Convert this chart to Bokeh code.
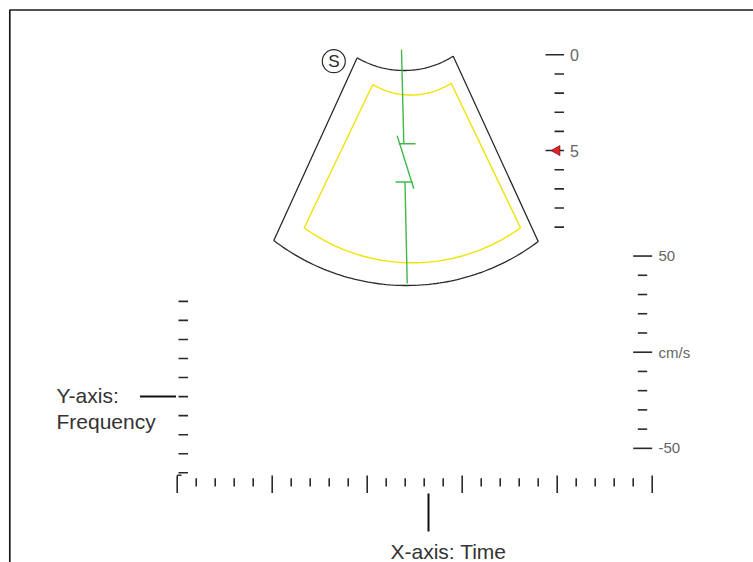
import numpy as np
from bokeh.plotting import figure
from bokeh.models import Range1d
from bokeh.embed import file_html
from bokeh.resources import INLINE
from bokeh.core.properties import value

# ---------------- data ----------------
depth_ticks = [0, 1, 2, 3, 4, 5, 6, 7, 8, 9]
depth_major = [0, 5]
depth_labels = ["0", "5"]
gate_depth = 5

velocity_ticks = [50, 40, 30, 20, 10, 0, -10, -20, -30, -40, -50]
velocity_major = [50, 0, -50]
velocity_labels = ["50", "cm/s", "-50"]

time_ticks = list(range(26))
time_major = [0, 5, 10, 15, 20, 25]

freq_ticks = list(range(10))
freq_pointer = 4

x_title = "X-axis: Time"
y_title = ["Y-axis:", "Frequency"]
probe_mark = "S"

# ---------------- layout / style ----------------
W, H = 753, 562
OX, OY = 0, 0            # Bokeh page has no body margin -> data units equal screen pixels
FONT = value("Liberation Sans")
DARK = "#2a2a2a"
GREEN = "#3fb94a"
YELLOW = "#f2e200"

# scale placements (pixels)
DEPTH_Y0, DEPTH_STEP = 54.3, 19.15
VEL_Y0, VEL_STEP = 351.7, 1.923        # px per cm/s
FREQ_Y0, FREQ_STEP = 472.3, 19.05
TIME_X0, TIME_STEP = 176.7, 19.0

p = figure(width=W, height=H,
           x_range=Range1d(OX, OX + W), y_range=Range1d(OY + H, OY),
           x_axis_type=None, y_axis_type=None,
           output_backend="svg", toolbar_location=None,
           min_border=0, outline_line_color=None)
p.xgrid.visible = False
p.ygrid.visible = False

p.extra_y_ranges = {
    "depth": Range1d((OY + H - DEPTH_Y0) / DEPTH_STEP, (OY - DEPTH_Y0) / DEPTH_STEP),
    "vel": Range1d((VEL_Y0 - (OY + H)) / VEL_STEP, (VEL_Y0 - OY) / VEL_STEP),
    "freq": Range1d((FREQ_Y0 - (OY + H)) / FREQ_STEP, (FREQ_Y0 - OY) / FREQ_STEP),
}
p.extra_x_ranges = {
    "time": Range1d((OX - TIME_X0) / TIME_STEP, (OX + W - TIME_X0) / TIME_STEP),
}

# ---------------- frame ----------------
p.line(x=[OX + W, 9.3, 9.3], y=[9.5, 9.5, OY + H], line_color="#1a1a1a", line_width=1.7)


# ---------------- sector (probe image) ----------------
def circle3(a, b, c):
    ax, ay = a; bx, by = b; cx, cy = c
    d = 2 * (ax * (by - cy) + bx * (cy - ay) + cx * (ay - by))
    ux = ((ax**2 + ay**2) * (by - cy) + (bx**2 + by**2) * (cy - ay) + (cx**2 + cy**2) * (ay - by)) / d
    uy = ((ax**2 + ay**2) * (cx - bx) + (bx**2 + by**2) * (ax - cx) + (cx**2 + cy**2) * (bx - ax)) / d
    return ux, uy


def arc(a, m, b, n=80):
    ux, uy = circle3(a, m, b)
    r = np.hypot(a[0] - ux, a[1] - uy)
    a0 = np.arctan2(a[1] - uy, a[0] - ux)
    a1 = np.arctan2(b[1] - uy, b[0] - ux)
    da = (a1 - a0 + np.pi) % (2 * np.pi) - np.pi
    t = np.linspace(0, 1, n)
    ang = a0 + da * t
    return list(ux + r * np.cos(ang)), list(uy + r * np.sin(ang))


def sector(tl, tm, tr, bl, bm, br):
    tx, ty = arc(tl, tm, tr)
    bx, by = arc(br, bm, bl)
    xs = tx + bx + [tl[0]]
    ys = ty + by + [tl[1]]
    return xs, ys


ox, oy = sector((356.7, 57.3), (404.7, 70.0), (452.7, 55.7),
                (273.3, 240.0), (405.5, 285.0), (537.7, 241.0))
p.line(ox, oy, line_color=DARK, line_width=1.3)

yx, yy = sector((372.3, 84.0), (411.5, 94.5), (450.7, 82.7),
                (303.7, 227.3), (411.9, 262.3), (520.0, 227.3))
p.line(yx, yy, line_color=YELLOW, line_width=1.4)

# Doppler cursor line with sample gate and angle correction
p.segment(x0=[401.0, 398.3, 396.7, 395.0, 404.5],
          y0=[49.3, 143.3, 135.3, 181.5, 181.5],
          x1=[403.3, 415.0, 413.3, 412.0, 406.7],
          y1=[143.3, 143.3, 188.3, 181.5, 283.0],
          line_color=GREEN, line_width=1.4)

# probe orientation mark
p.scatter(x=[333.3], y=[60.7], marker="circle", size=23, fill_color=None,
          line_color=DARK, line_width=1.2)
p.text(x=[333.3], y=[61.0], text=[probe_mark], text_align="center",
       text_baseline="middle", text_font=FONT, text_font_size="17px",
       text_color=DARK)

# ---------------- depth scale ----------------
p.segment(x0=[545.0 if d in depth_major else 554.0 for d in depth_ticks], y0=depth_ticks,
          x1=[563.5] * len(depth_ticks), y1=depth_ticks,
          y_range_name="depth", line_color=DARK, line_width=1.6)
p.text(x=[569.5] * len(depth_major), y=depth_major, text=depth_labels,
       y_range_name="depth", text_baseline="middle", text_font=FONT,
       text_font_size="16px", text_color="#666666")
p.scatter(x=[556.5], y=[gate_depth], y_range_name="depth", marker="triangle",
          angle=np.pi / 2, size=10, fill_color="#e0202a", line_color="#7a1010",
          line_width=0.8)

# ---------------- velocity scale ----------------
p.segment(x0=[632.7 if v in velocity_major else 637.3 for v in velocity_ticks], y0=velocity_ticks,
          x1=[651.7 if v in velocity_major else 646.7 for v in velocity_ticks], y1=velocity_ticks,
          y_range_name="vel", line_color=DARK, line_width=1.6)
p.text(x=[658.0] * len(velocity_major), y=velocity_major, text=velocity_labels,
       y_range_name="vel", text_baseline="middle", text_font=FONT,
       text_font_size="15px", text_color="#666666")

# ---------------- frequency (y) ticks ----------------
p.segment(x0=[178.0] * len(freq_ticks), y0=freq_ticks,
          x1=[187.5] * len(freq_ticks), y1=freq_ticks,
          y_range_name="freq", line_color=DARK, line_width=1.6)
p.segment(x0=[139.5], y0=[freq_pointer], x1=[175.5], y1=[freq_pointer],
          y_range_name="freq", line_color="#111111", line_width=2)
p.text(x=[56, 56], y=[394.5, 420.5], text=y_title, text_baseline="alphabetic",
       text_font=FONT, text_font_size="21px", text_color="#333333")

# ---------------- time (x) ticks ----------------
p.segment(x0=time_ticks, x1=time_ticks,
          y0=[475.0 if t in time_major else 477.7 for t in time_ticks],
          y1=[492.5 if t in time_major else 486.0 for t in time_ticks],
          x_range_name="time", line_color=DARK, line_width=1.6)
p.segment(x0=[176.7], y0=[474.8], x1=[181.0], y1=[474.8], line_color=DARK, line_width=1.4)
p.segment(x0=[428.0], y0=[493.0], x1=[428.0], y1=[531.0], line_color="#111111", line_width=2)
p.text(x=[390], y=[551.0], text=[x_title], text_baseline="alphabetic",
       text_font=FONT, text_font_size="21px", text_color="#333333")

open("out.html", "w").write(file_html(p, INLINE))
